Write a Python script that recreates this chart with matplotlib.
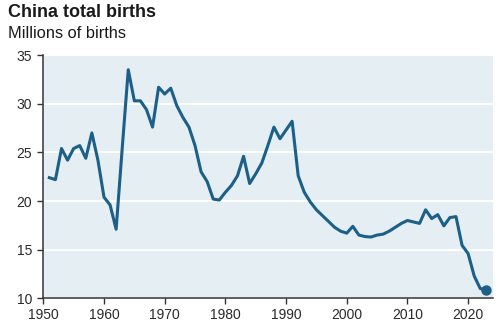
import matplotlib.pyplot as plt

# Annual births in China, millions
years = list(range(1951, 2024))
births = [
    22.4, 22.2, 25.4, 24.2, 25.4, 25.7, 24.4, 27.0, 24.2, 20.4,
    19.6, 17.1, 25.4, 33.5, 30.3, 30.3, 29.4, 27.6, 31.7, 31.0,
    31.6, 29.8, 28.6, 27.6, 25.7, 23.0, 22.0, 20.2, 20.1, 20.9,
    21.6, 22.6, 24.6, 21.8, 22.8, 23.9, 25.7, 27.6, 26.4, 27.3,
    28.2, 22.6, 20.9, 19.9, 19.1, 18.5, 17.9, 17.3, 16.9, 16.7,
    17.4, 16.5, 16.35, 16.3, 16.5, 16.6, 16.9, 17.3, 17.7, 18.0,
    17.85, 17.7, 19.1, 18.2, 18.6, 17.45, 18.3, 18.4, 15.45, 14.6,
    12.3, 11.0, 10.9,
]
x_ticks = [1950, 1960, 1970, 1980, 1990, 2000, 2010, 2020]
y_ticks = [10, 15, 20, 25, 30, 35]

line_color = "#1c5f88"
bg_color = "#e5eef3"
axis_color = "#333333"

plt.rcParams["font.family"] = ["Liberation Sans", "DejaVu Sans"]

fig = plt.figure(figsize=(5.0, 3.28), dpi=100)
ax = fig.add_axes([0.0866, 0.0905, 0.8994, 0.7415])
ax.set_facecolor(bg_color)

ax.plot(years, births, color=line_color, linewidth=2.2, solid_joinstyle="round", zorder=3)
ax.plot(years[-1], births[-1], "o", color=line_color, markersize=6.5, zorder=4)

ax.set_xlim(1950, 2024.1)
ax.set_ylim(10, 35)
ax.set_xticks(x_ticks)
ax.set_yticks(y_ticks)
ax.yaxis.grid(True, color="white", linewidth=1.3)
ax.set_axisbelow(True)

for side in ["top", "right"]:
    ax.spines[side].set_visible(False)
for side in ["left", "bottom"]:
    ax.spines[side].set_color(axis_color)
    ax.spines[side].set_linewidth(1.1)

ax.tick_params(axis="both", colors=axis_color, labelcolor="#2a2a2a",
               labelsize=10, length=4, width=1.0, direction="out")
ax.tick_params(axis="y", pad=4)
ax.tick_params(axis="x", pad=3)

fig.text(0.016, 0.948, "China total births", fontsize=13, fontweight="bold",
         color="#1a1a1a", va="baseline")
fig.text(0.016, 0.884, "Millions of births", fontsize=11.8, color="#1a1a1a", va="baseline")

fig.savefig("out.png", dpi=100)
